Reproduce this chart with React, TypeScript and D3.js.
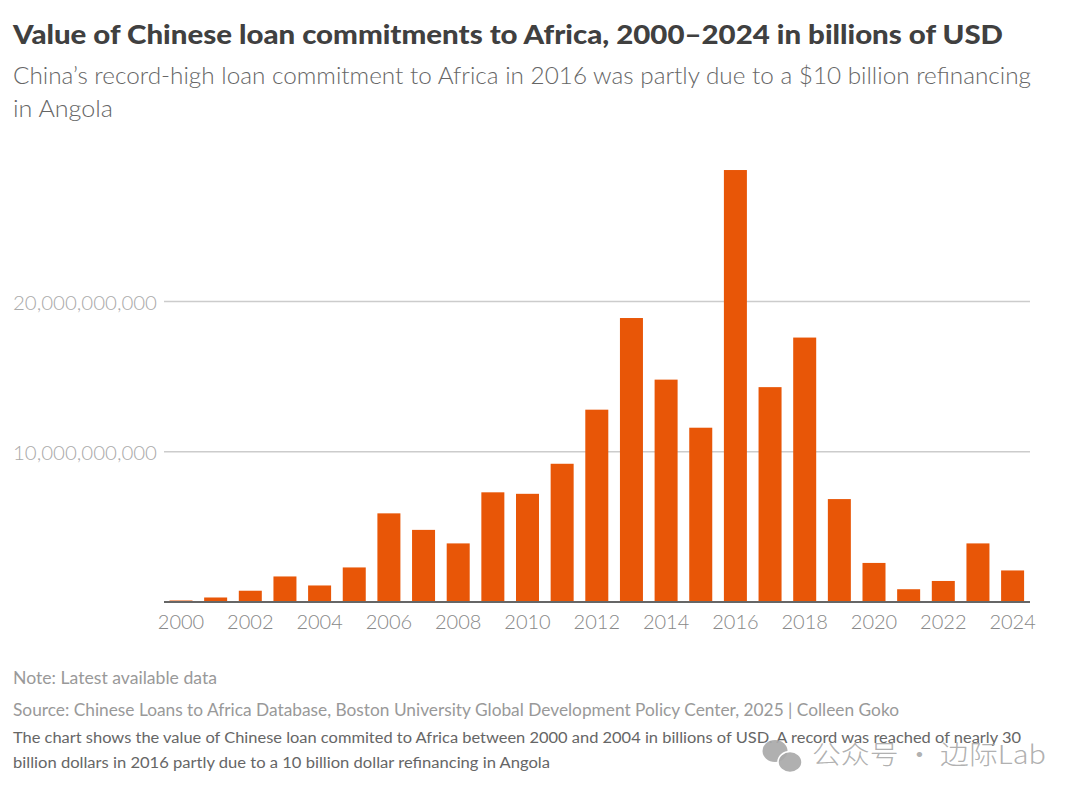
import React from "react";
import * as d3 from "d3";

const years = d3.range(2000, 2025).map(String);
const commitments = [0.1, 0.3, 0.75, 1.7, 1.1, 2.3, 5.9, 4.8, 3.9, 7.3, 7.2, 9.2, 12.8, 18.9, 14.8, 11.6, 28.75, 14.3, 17.6, 6.85, 2.6, 0.85, 1.4, 3.9, 2.1];
const gridValues = [10, 20];
const gridLabels = ["10,000,000,000", "20,000,000,000"];
const xTickYears = years.filter((_, i) => i % 2 === 0);

const titleText = "Value of Chinese loan commitments to Africa, 2000–2024 in billions of USD";
const subtitleLines = ["China’s record-high loan commitment to Africa in 2016 was partly due to a $10 billion refinancing", "in Angola"];
const noteText = "Note: Latest available data";
const sourceText = "Source: Chinese Loans to Africa Database, Boston University Global Development Policy Center, 2025 | Colleen Goko";
const altLines = ["The chart shows the value of Chinese loan commited to Africa between 2000 and 2004 in billions of USD. A record was reached of nearly 30", "billion dollars in 2016 partly due to a 10 billion dollar refinancing in Angola"];

const FONT = "Lato, 'Open Sans', sans-serif";
const W = 1080, H = 796;
const STEP = 34.65;

export default function App() {
  const x = d3.scaleBand<string>().domain(years).range([181 - STEP / 2, 181 + STEP * 24 + STEP / 2]).paddingInner(1 - 23 / STEP).paddingOuter((1 - 23 / STEP) / 2);
  const y = d3.scaleLinear().domain([0, 20]).range([602, 301.5]);
  const cx = (d: string) => (x(d) as number) + x.bandwidth() / 2;
  return (
    <svg width={W} height={H} viewBox={`0 0 ${W} ${H}`} style={{ position: "absolute", left: 0, top: 0, background: "#fff", fontFamily: FONT }}>
      <text x={13} y={44} fontSize={27} fontWeight={900} fill="#404040" textLength={990} lengthAdjust="spacingAndGlyphs">{titleText}</text>
      {subtitleLines.map((s, i) => (
        <text key={i} x={13} y={84 + i * 33} fontSize={23.5} fill="#666666" fontWeight={300} textLength={i === 0 ? 1018 : 100} lengthAdjust="spacingAndGlyphs">{s}</text>
      ))}
      {gridValues.map((v, i) => (
        <g key={v}>
          <line x1={164} x2={1030} y1={y(v)} y2={y(v)} stroke="#cccccc" strokeWidth={1.5} />
          <text x={157} y={y(v) + 8} textAnchor="end" fontSize={20.4} fontWeight={300} fill="#aaaaaa" textLength={144} lengthAdjust="spacingAndGlyphs">{gridLabels[i]}</text>
        </g>
      ))}
      {years.map((d, i) => (
        <rect key={d} x={x(d)} y={y(commitments[i])} width={x.bandwidth()} height={y(0) - y(commitments[i])} fill="#e85607" />
      ))}
      <line x1={164} x2={1030} y1={y(0)} y2={y(0)} stroke="#666666" strokeWidth={1.8} />
      {xTickYears.map((d) => (
        <text key={d} x={cx(d)} y={629} textAnchor="middle" fontSize={20} fontWeight={300} fill="#888888">{d}</text>
      ))}
      <text x={13} y={684} fontSize={16.5} fill="#999999" textLength={204} lengthAdjust="spacingAndGlyphs">{noteText}</text>
      <text x={13} y={716} fontSize={17} fill="#999999" textLength={886} lengthAdjust="spacingAndGlyphs">{sourceText}</text>
      {altLines.map((s, i) => (
        <text key={i} x={13} y={743 + i * 25} fontSize={15.5} fill="#666666" textLength={i === 0 ? 1008 : 537} lengthAdjust="spacingAndGlyphs">{s}</text>
      ))}
      <g fill="#a9a9a9" fillOpacity={0.92}>
        <ellipse cx={775} cy={751} rx={12.5} ry={11} />
        <ellipse cx={790} cy={762} rx={12} ry={10.5} stroke="#fff" strokeWidth={1.5} />
        <text x={812} y={764} fontSize={26} fontFamily="'Noto Sans CJK SC', sans-serif" fontWeight={300} textLength={234} lengthAdjust="spacingAndGlyphs">公众号 · 边际Lab</text>
      </g>
    </svg>
  );
}
